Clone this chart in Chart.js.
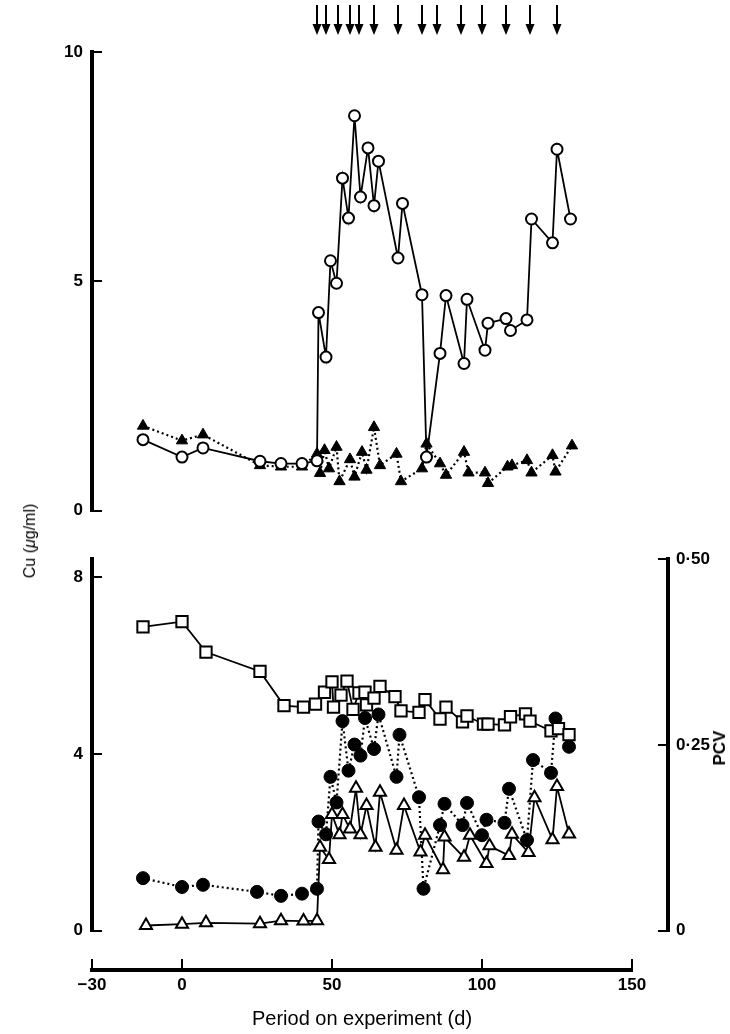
<!DOCTYPE html>
<html>
<head>
  <title>Cu and PCV</title>
  <script src="https://cdn.jsdelivr.net/npm/chart.js@4.4.0/dist/chart.umd.min.js"></script>
  <style>
    body{margin:0;background:#fff;}
    #wrap{position:relative;width:730px;height:1034px;}
    canvas{position:absolute;left:0;}
    .lbl{position:absolute;font-family:'Liberation Sans',Arial,sans-serif;color:#000;transform:translate(-50%,-50%) rotate(-90deg);white-space:nowrap;}
  </style>
</head>
<body>
<div id="wrap">
  <canvas id="topChart" width="730" height="540" style="top:0"></canvas>
  <canvas id="botChart" width="730" height="430" style="top:530px"></canvas>
  <canvas id="axisChart" width="730" height="94" style="top:940px"></canvas>
  <div class="lbl" style="left:30px;top:541px;font-size:16px">Cu (<i>μ</i>g/ml)</div>
  <div class="lbl" style="left:720px;top:748px;font-size:17px;font-weight:bold">PCV</div>
</div>

<script>
const openCircleDays = [-13, 0, 7, 26, 33, 40, 45, 45.5, 48, 49.5, 51.5, 53.5, 55.5, 57.5, 59.5, 62, 64, 65.5, 72, 73.5, 80, 81.5, 86, 88, 94, 95, 101, 102, 108, 109.5, 115, 116.5, 123.5, 125, 129.5];
const openCircleCu = [1.55, 1.17, 1.37, 1.08, 1.03, 1.03, 1.09, 4.32, 3.35, 5.45, 4.96, 7.25, 6.38, 8.61, 6.84, 7.91, 6.65, 7.62, 5.51, 6.70, 4.71, 1.17, 3.43, 4.69, 3.21, 4.61, 3.50, 4.09, 4.19, 3.93, 4.16, 6.36, 5.84, 7.88, 6.36];

const filledTriDays = [-13, 0, 7, 26, 33, 40, 45, 46, 47.5, 49, 51.5, 52.5, 56, 57.5, 60, 61.5, 64, 66, 71.5, 73, 80, 81.5, 86, 88, 94, 95.5, 101, 102, 108.5, 110, 115, 116.5, 123.5, 124.5, 130];
const filledTriCu = [1.85, 1.53, 1.66, 0.99, 0.96, 0.96, 1.24, 0.82, 1.32, 0.92, 1.39, 0.64, 1.12, 0.74, 1.28, 0.89, 1.82, 0.99, 1.24, 0.64, 0.92, 1.46, 1.03, 0.78, 1.28, 0.83, 0.83, 0.60, 0.96, 0.99, 1.10, 0.83, 1.21, 0.85, 1.42];

const squareDays = [-13, 0, 8, 26, 34, 40.5, 44.5, 47.5, 50, 50.5, 53, 55, 57, 59, 61, 61.5, 64, 66, 71, 73, 79, 81, 86, 88, 93.5, 95, 100.5, 102, 107.5, 109.5, 114.5, 116, 123, 125.5, 129];
const squarePcv = [0.409, 0.416, 0.375, 0.349, 0.303, 0.301, 0.305, 0.321, 0.335, 0.301, 0.317, 0.336, 0.298, 0.320, 0.321, 0.304, 0.313, 0.329, 0.315, 0.296, 0.294, 0.311, 0.285, 0.301, 0.281, 0.289, 0.278, 0.278, 0.277, 0.288, 0.292, 0.282, 0.269, 0.272, 0.264];

const filledCircleDays = [-13, 0, 7, 25, 33, 40, 45, 45.5, 48, 49.5, 51.5, 53.5, 55.5, 57.5, 59.5, 61, 64, 65.5, 71.5, 72.5, 79, 80.5, 86, 87.5, 93.5, 95, 100, 101.5, 107.5, 109, 115, 117, 123, 124.5, 129];
const filledCircleCu = [1.19, 0.99, 1.04, 0.88, 0.79, 0.84, 0.95, 2.47, 2.18, 3.48, 2.90, 4.74, 3.62, 4.21, 3.96, 4.81, 4.11, 4.89, 3.48, 4.43, 3.02, 0.95, 2.39, 2.87, 2.39, 2.89, 2.16, 2.51, 2.44, 3.21, 2.05, 3.86, 3.57, 4.80, 4.16];

const openTriDays = [-12, 0, 8, 26, 33, 40.5, 45, 46, 49, 50, 52.5, 53.5, 56, 58, 59.5, 61.5, 64.5, 66, 71.5, 74, 79.5, 81, 87, 87.5, 94, 96, 101.5, 102.5, 109, 110, 115.5, 117.5, 123.5, 125, 129];
const openTriCu = [0.12, 0.15, 0.18, 0.16, 0.23, 0.22, 0.23, 1.89, 1.61, 2.63, 2.17, 2.63, 2.30, 3.22, 2.17, 2.83, 1.89, 3.13, 1.82, 2.83, 1.78, 2.16, 1.38, 2.12, 1.66, 2.16, 1.52, 1.92, 1.70, 2.18, 1.77, 3.01, 2.06, 3.26, 2.19];

const arrowDays = [45, 48, 52, 56, 59, 64, 72, 80, 85, 93, 100, 108, 116, 125];

const xTicks = [-30, 0, 50, 100, 150];
const topTicks = [0, 5, 10];
const cuTicks = [0, 4, 8];
const pcvTicks = [0, 0.25, 0.5];
const pcvLabels = ['0', '0·25', '0·50'];

const FONT = "'Liberation Sans', Arial, sans-serif";

function pts(xs, ys){
    return xs.map((x, i) => ({x: x, y: ys[i]}));
}

function series(xs, ys, s){
    return {
        data: pts(xs, ys),
        showLine: true,
        borderColor: '#000',
        borderWidth: s.dotted ? 2.2 : 1.8,
        borderDash: s.dotted ? [2, 3] : [],
        pointStyle: s.shape,
        pointRadius: s.r,
        pointBackgroundColor: s.open ? '#fff' : '#000',
        pointBorderColor: '#000',
        pointBorderWidth: s.open ? 2 : 1,
        yAxisID: s.axis || 'y',
    };
}

function yAxis(pos, min, max, ticks, labels, width){
    return {
        type: 'linear', position: pos, min: min, max: max,
        border: {display: true, color: '#000', width: 4},
        grid: {drawOnChartArea: false, color: '#000', lineWidth: 2, tickLength: -10},
        ticks: {
            color: '#000', font: {family: FONT, size: 17, weight: 'bold'}, padding: pos == 'left' ? 19 : 18,
            callback: v => labels ? labels[ticks.indexOf(v)] : String(v)
        },
        afterBuildTicks: s => { s.ticks = ticks.map(v => ({value: v})); },
        afterFit: s => { s.width = width; }
    };
}

const arrows = {
    id: 'arrows',
    afterDatasetsDraw(chart){
        const ctx = chart.ctx;
        const xs = chart.scales.x;
        ctx.save();
        ctx.strokeStyle = '#000';
        ctx.fillStyle = '#000';
        ctx.lineWidth = 2;
        arrowDays.forEach(d => {
            const x = xs.getPixelForValue(d);
            ctx.beginPath();
            ctx.moveTo(x, 5);
            ctx.lineTo(x, 27);
            ctx.stroke();
            ctx.beginPath();
            ctx.moveTo(x - 4.5, 24);
            ctx.lineTo(x + 4.5, 24);
            ctx.lineTo(x, 35);
            ctx.closePath();
            ctx.fill();
        });
        ctx.restore();
    }
};

const common = {
    responsive: false,
    animation: false,
    plugins: {legend: {display: false}, tooltip: {enabled: false}},
};

new Chart(document.getElementById('topChart'), {
    type: 'scatter',
    data: {datasets: [
        series(openCircleDays, openCircleCu, {shape: 'circle', r: 5.5, open: true}),
        series(filledTriDays, filledTriCu, {shape: 'triangle', r: 6.5, dotted: true}),
    ]},
    options: Object.assign({}, common, {
        layout: {padding: {left: 0, right: 98, top: 52, bottom: 22}},
        scales: {
            x: {type: 'linear', min: -30, max: 150, display: false},
            y: yAxis('left', 0, 10, topTicks, null, 92),
        }
    }),
    plugins: [arrows]
});

new Chart(document.getElementById('botChart'), {
    type: 'scatter',
    data: {datasets: [
        series(squareDays, squarePcv, {shape: 'rect', r: 8, open: true, axis: 'pcv'}),
        series(openTriDays, openTriCu, {shape: 'triangle', r: 7, open: true}),
        series(filledCircleDays, filledCircleCu, {shape: 'circle', r: 6.5, dotted: true}),
    ]},
    options: Object.assign({}, common, {
        layout: {padding: {left: 0, right: 0, top: 18, bottom: 17}},
        scales: {
            x: {type: 'linear', min: -30, max: 162, display: false},
            y: yAxis('left', 0, 8.4, cuTicks, null, 92),
            pcv: yAxis('right', 0, 0.5, pcvTicks, pcvLabels, 62),
        }
    })
});

new Chart(document.getElementById('axisChart'), {
    type: 'scatter',
    data: {datasets: []},
    options: Object.assign({}, common, {
        layout: {padding: {left: 92, right: 98, top: 10, bottom: 0}},
        scales: {
            x: {
                type: 'linear', position: 'bottom', min: -30, max: 150,
                border: {display: true, color: '#000', width: 4},
                grid: {drawOnChartArea: false, color: '#000', lineWidth: 2, tickLength: -11},
                ticks: {
                    color: '#000', font: {family: FONT, size: 17, weight: 'bold'}, padding: 16,
                    callback: v => v < 0 ? '−' + Math.abs(v) : String(v)
                },
                title: {display: true, text: 'Period on experiment (d)', color: '#000',
                        font: {family: FONT, size: 20}, padding: {top: 0, bottom: 3}},
                afterBuildTicks: s => { s.ticks = xTicks.map(v => ({value: v})); },
                afterFit: s => { s.height = 64; }
            },
            y: {display: false, min: 0, max: 1}
        }
    })
});
</script>
</body>
</html>
